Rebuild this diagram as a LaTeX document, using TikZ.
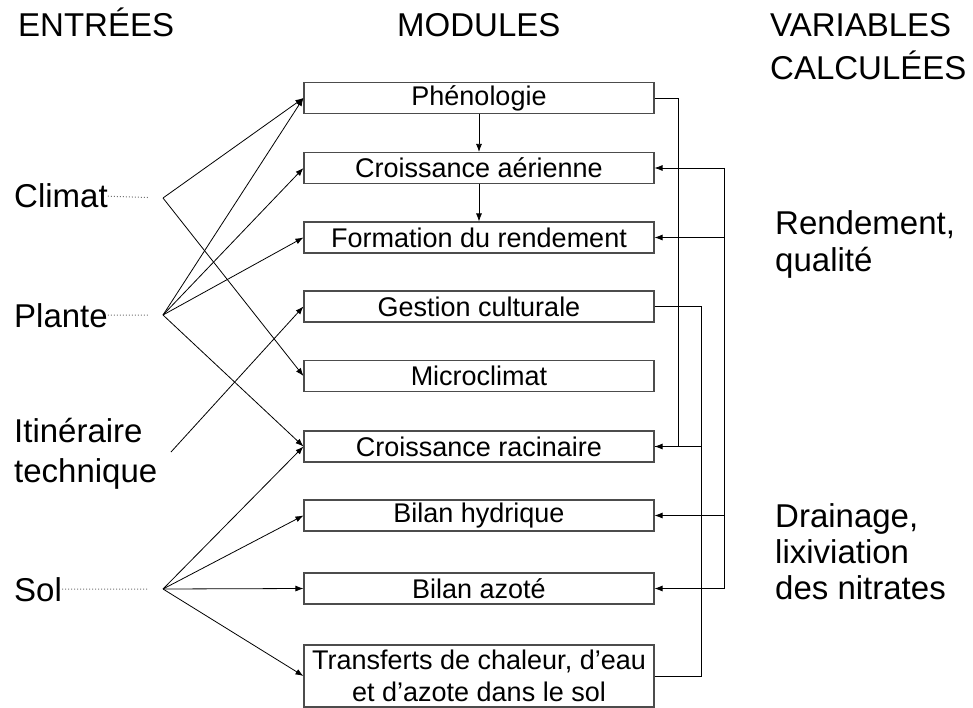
\documentclass[tikz,border=0pt]{standalone}
\usepackage{fontspec}
\setmainfont{Liberation Sans}
\usetikzlibrary{arrows.meta}

\begin{document}
\begin{tikzpicture}[x=1pt, y=-1pt,
	module/.style={draw=black!70, line width=1.1pt, minimum width=350pt, minimum height=31pt, inner sep=0pt, font=\fontsize{27}{32}\selectfont},
	bigtext/.style={inner sep=0pt, align=left, font=\fontsize{33}{40}\selectfont},
	link/.style={line width=0.8pt, -{Latex[length=8pt,width=6pt]}},
	wire/.style={line width=0.8pt},
	dotline/.style={black!55, dotted, line width=1pt}]
	\useasboundingbox (0,0) rectangle (973,708);

	\node[bigtext, anchor=base west] (entrees) at (18,37) {ENTRÉES};
	\node[bigtext, anchor=base west] (modules) at (397,37) {MODULES};
	\node[bigtext, anchor=base west, font=\fontsize{33}{43}\selectfont] (variables) at (770,80) {VARIABLES\\CALCULÉES};

	\node[module] (phen) at (479,98) {Phénologie};
	\node[module] (aer) at (479,168) {Croissance aérienne};
	\node[module] (form) at (479,237.5) {Formation du rendement};
	\node[module] (gest) at (479,306.5) {Gestion culturale};
	\node[module] (micro) at (479,376) {Microclimat};
	\node[module] (racin) at (479,446.5) {Croissance racinaire};
	\node[module] (hydr) at (479,515.5) {Bilan hydrique};
	\node[module] (azot) at (479,588.5) {Bilan azoté};
	\node[module, minimum height=62pt, align=center] (transf) at (479,676) {Transferts de chaleur, d'eau\\et d'azote dans le sol};

	\node[bigtext, anchor=base west] (climat) at (14,208) {Climat};
	\node[bigtext, anchor=base west] (plante) at (14,327) {Plante};
	\node[bigtext, anchor=base west] (itin) at (14,482) {Itinéraire\\technique};
	\node[bigtext, anchor=base west] (sol) at (14,601) {Sol};

	\node[bigtext, anchor=base west, font=\fontsize{33}{37}\selectfont] (rend) at (775,272) {Rendement,\\qualité};
	\node[bigtext, anchor=base west, font=\fontsize{33}{36}\selectfont] (drain) at (775,599) {Drainage,\\lixiviation\\des nitrates};

	\coordinate (cl) at (163,198);
	\coordinate (pl) at (163,315);
	\coordinate (it) at (171,452);
	\coordinate (so) at (163,589);

	\draw[dotline, shorten >=15pt] (climat.east) -- (cl);
	\draw[dotline, shorten >=15pt] (plante.east) -- (pl);
	\draw[dotline, shorten >=15pt] (sol.east) -- (so);

	\draw[link] (cl) -- (phen.west);
	\draw[link] (cl) -- (micro.west);
	\foreach \m in {phen, aer, form, racin}
		\draw[link] (pl) -- (\m.west);
	\draw[link] (it) -- (gest.west);
	\foreach \m in {racin, hydr, azot, transf}
		\draw[link] (so) -- (\m.west);

	\draw[link] (phen) -- (aer);
	\draw[link] (aer) -- (form);

	\draw[wire] (phen.east) -- ++(24,0) |- (racin.east);
	\draw[link] (gest.east) -- ++(47,0) coordinate (gbus) |- (racin.east);
	\draw[wire] (gbus) |- (transf.east);

	\coordinate (vbus) at (724,168);
	\draw[link] (vbus) -- (aer.east);
	\draw[link] (vbus) |- (azot.east);
	\draw[link] (vbus |- form.east) -- (form.east);
	\draw[link] (vbus |- hydr.east) -- (hydr.east);
\end{tikzpicture}
\end{document}
